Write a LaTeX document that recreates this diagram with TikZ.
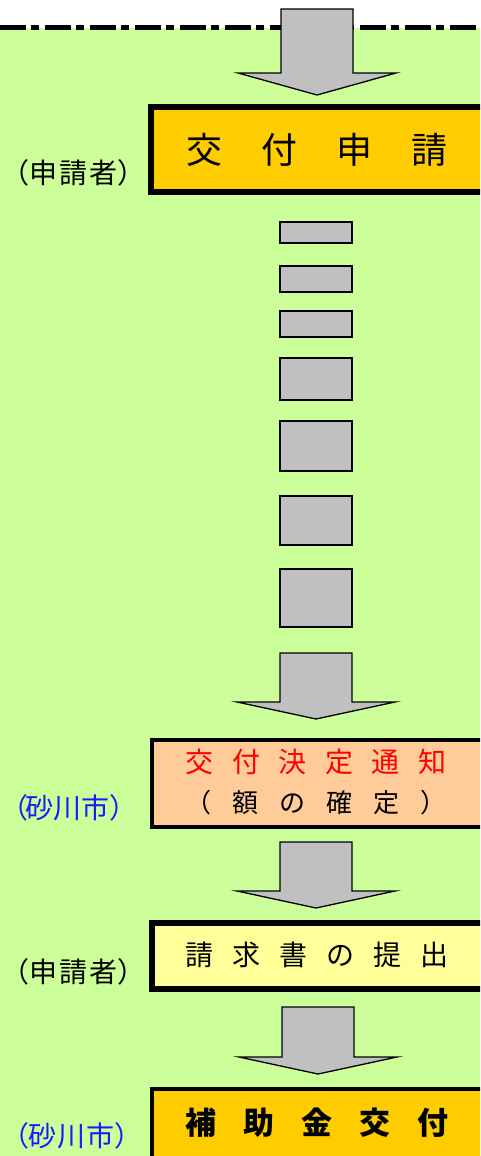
\documentclass[tikz,border=0pt]{standalone}
\usepackage{fontspec}
\setmainfont{Noto Sans CJK JP}
\definecolor{bggreen}{HTML}{CCFF99}
\definecolor{boxorange}{HTML}{FFCC00}
\definecolor{boxpeach}{HTML}{FFCC99}
\definecolor{boxyellow}{HTML}{FFFF99}
\definecolor{arrgray}{HTML}{C0C0C0}
\definecolor{jred}{HTML}{FF0000}
\definecolor{jblue}{HTML}{1A1AFF}
\tikzset{
  barrow/.style={draw=black, fill=arrgray, line width=1.3, line join=miter},
  smallbox/.style={draw=black, fill=arrgray, line width=2, inner sep=0},
  stepbox/.style={draw=black, inner sep=0, line join=miter},
  who/.style={inner sep=0, anchor=west, font=\fontsize{28}{32}\selectfont},
}
\newcommand\blockarr[4]{%
  \draw[barrow] ({#1-36},#2) -- ({#1+36},#2) -- ({#1+36},#3) -- ({#1+79},#3)
    -- (#1,#4) -- ({#1-79},#3) -- ({#1-36},#3) -- cycle;}
\begin{document}
\begin{tikzpicture}[x=1pt,y=-1pt]
\useasboundingbox (0,0) rectangle (480,1156);
\clip (0,0) rectangle (480,1156);
\fill[white] (0,0) rectangle (480,28);
\fill[bggreen] (0,28) rectangle (480,1156);
\draw[line width=5, dash pattern=on 26pt off 5pt on 8pt off 6pt] (0,27.5) -- (480,27.5);

% arrow 1
\blockarr{317}{9}{73}{95}

% box 1
\node[stepbox, fill=boxorange, line width=6, minimum width=339, minimum height=85] (b1) at (320.5,149) {};
\node[inner sep=0, font=\fontsize{36}{40}\selectfont] (t1) at (317,150) {交\hspace{39pt}付\hspace{39pt}申\hspace{39pt}請};
\node[who] (w1) at (1,173) {（申\hspace{2pt}請\hspace{2pt}者）};

% small rects
\node[smallbox, minimum width=72, minimum height=21] (s1) at (316,232.5) {};
\node[smallbox, minimum width=72, minimum height=26] (s2) at (316,279) {};
\node[smallbox, minimum width=72, minimum height=26] (s3) at (316,324) {};
\node[smallbox, minimum width=72, minimum height=42] (s4) at (316,379) {};
\node[smallbox, minimum width=72, minimum height=50] (s5) at (316,446) {};
\node[smallbox, minimum width=72, minimum height=49] (s6) at (316,520.5) {};
\node[smallbox, minimum width=72, minimum height=58] (s7) at (316,598) {};

% arrow 2
\blockarr{316}{653}{702}{719}

% box 2
\node[stepbox, fill=boxpeach, line width=4, minimum width=338, minimum height=87] (b2) at (321,783.5) {};
\node[inner sep=0, text=jred, font=\fontsize{28}{32}\selectfont] (t2a) at (316,762) {交\hspace{18.5pt}付\hspace{18.5pt}決\hspace{18.5pt}定\hspace{18.5pt}通\hspace{18.5pt}知};
\node[inner sep=0, font=\fontsize{26}{30}\selectfont] (t2b) at (316,803) {（\hspace{21pt}額\hspace{21pt}の\hspace{21pt}確\hspace{21pt}定\hspace{21pt}）};
\node[who, text=jblue] (w2) at (0.5,808) {（\hspace{-3pt}砂川市）};

% arrow 3
\blockarr{316}{842}{891}{908}

% box 3
\node[stepbox, fill=boxyellow, line width=6, minimum width=338, minimum height=66] (b3) at (321,956) {};
\node[inner sep=0, font=\fontsize{28}{32}\selectfont] (t3) at (317,955) {請\hspace{19pt}求\hspace{19pt}書\hspace{19pt}の\hspace{19pt}提\hspace{19pt}出};
\node[who] (w3) at (1,972) {（申\hspace{2pt}請\hspace{2pt}者）};

% arrow 4
\blockarr{318}{1007}{1057}{1074}

% box 4
\node[stepbox, fill=boxorange, line width=4, minimum width=338, minimum height=90] (b4) at (321,1134) {};
\node[inner sep=0, font=\fontsize{31}{35}\selectfont\bfseries] (t4) at (317,1123) {補\hspace{27pt}助\hspace{27pt}金\hspace{27pt}交\hspace{27pt}付};
\node[who, text=jblue] (w4) at (1,1136) {（\hspace{-1pt}砂\hspace{1pt}川\hspace{1pt}市）};
\end{tikzpicture}
\end{document}
